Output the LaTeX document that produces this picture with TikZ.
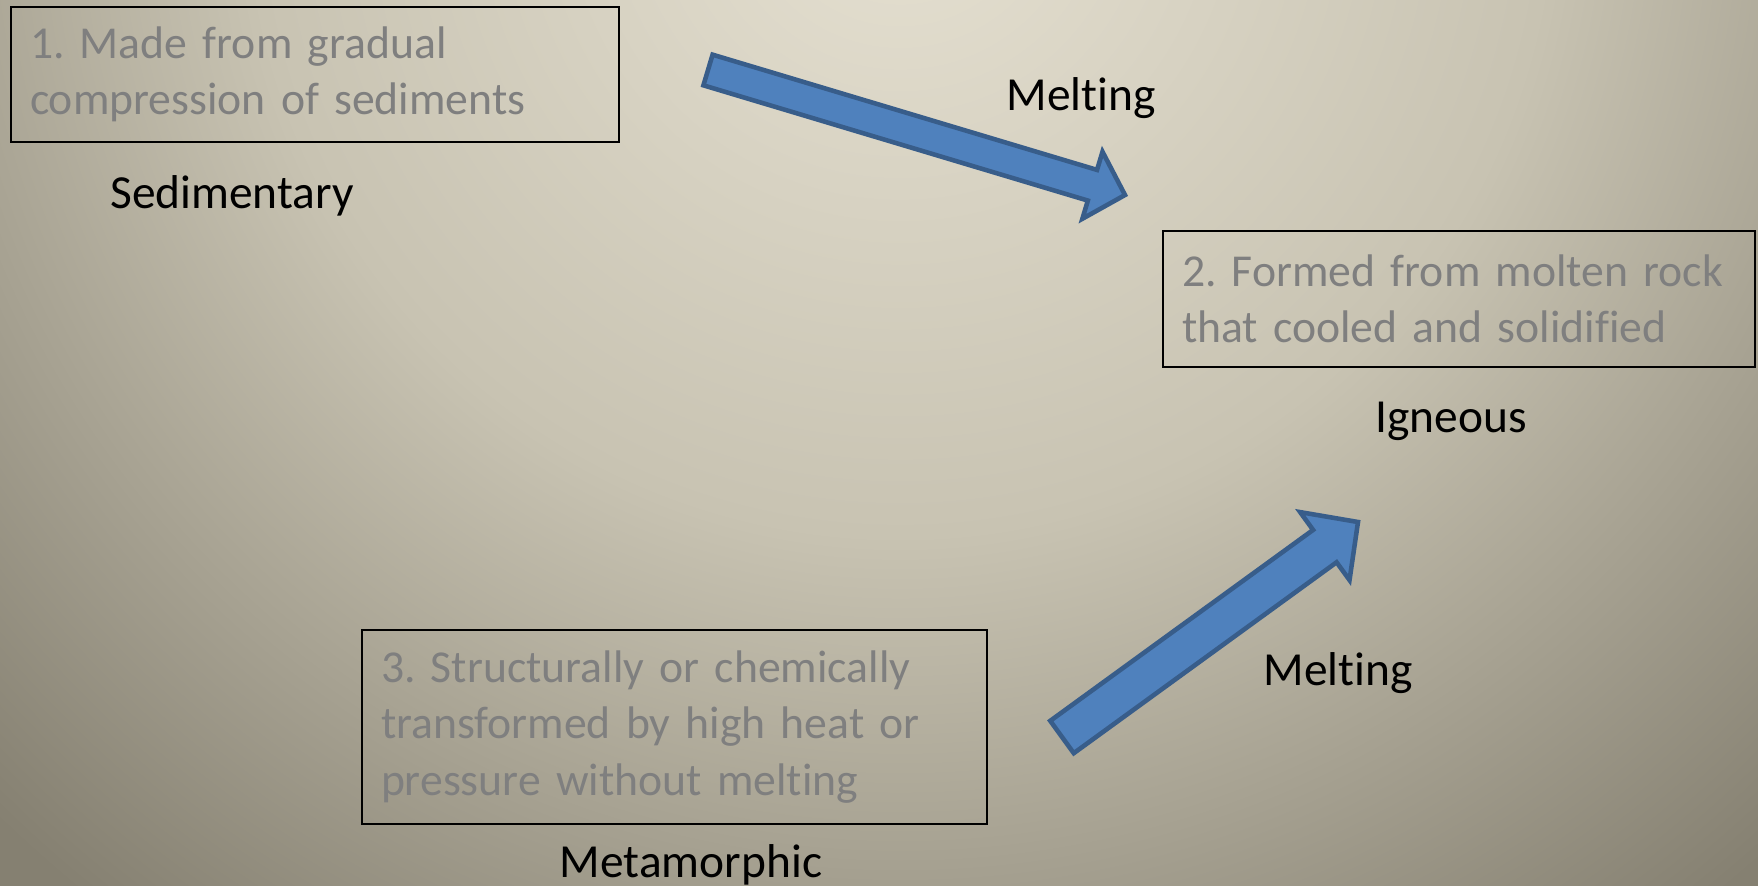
\documentclass[tikz,border=0pt]{standalone}
\usepackage{fontspec}
\setmainfont{Carlito}[Ligatures=NoCommon]
\usepackage{xcolor}
\usepackage{tikz}
\usetikzlibrary{calc}
\usetikzlibrary{positioning}
\usetikzlibrary{backgrounds}
\pgfdeclarelayer{edgelayer}
\pgfdeclarelayer{nodelayer}
\pgfsetlayers{background,edgelayer,nodelayer,main}
\definecolor{bglight}{RGB}{230,225,210}
\definecolor{bgmid}{RGB}{200,195,178}
\definecolor{bgdark}{RGB}{133,128,113}
\definecolor{boxgray}{RGB}{127,127,127}
\definecolor{meltblue}{RGB}{79,129,189}
\definecolor{meltedge}{RGB}{56,93,138}
\pgfdeclareradialshading{slidebg}{\pgfpointorigin}{color(0cm)=(bglight); color(6.5cm)=(bgmid); color(13cm)=(bgdark); color(25cm)=(bgdark)}
\tikzstyle{none}=[inner sep=0mm]
\tikzstyle{rockbox}=[draw=black,line width=0.6pt,text=boxgray,align=left,inner xsep=0.19cm,inner ysep=0mm,font=\fontsize{13pt}{16.1pt}\selectfont]
\tikzstyle{rocklabel}=[none,anchor=base,font=\fontsize{13.5pt}{15.9pt}\selectfont]
\tikzstyle{arrowblock}=[fill=meltblue,draw=meltedge,line width=1.3pt]
% block arrow: tail, tip, half shaft, half head, head length
\newcommand{\meltarrow}[5]{%
	\coordinate (#2-base) at ($(#2)!#5!(#1)$);
	\draw [style=arrowblock] ($(#1)!#3!90:(#2)$) -- ($(#2-base)!#3!90:(#2)$)
		-- ($(#2-base)!#4!90:(#2)$) -- (#2) -- ($(#2-base)!#4!-90:(#2)$)
		-- ($(#2-base)!#3!-90:(#2)$) -- ($(#1)!#3!-90:(#2)$) -- cycle;
}
\frenchspacing

\begin{document}
\begin{tikzpicture}
	\useasboundingbox (0, 0) rectangle (17.58, 8.85);
	\begin{pgfonlayer}{background}
		\begin{scope}
			\clip (0, 0) rectangle (17.58, 8.85);
			\pgftext[at=\pgfpoint{9cm}{10cm}]{\pgfuseshading{slidebg}}
		\end{scope}
	\end{pgfonlayer}
	\begin{pgfonlayer}{nodelayer}
		\node [style=rockbox, text width=5.7cm, minimum height=1.35cm] (sed) at (3.15, 8.105) {1. Made from gradual\\compression of sediments};
		\node [style=rockbox, text width=5.54cm, minimum height=1.36cm] (ign) at (14.59, 5.86) {2. Formed from molten rock\\that cooled and solidified};
		\node [style=rockbox, text width=5.87cm, minimum height=1.94cm] (met) at (6.745, 1.58) {3. Structurally or chemically\\transformed by high heat or\\pressure without melting};
		\node [style=rocklabel] (sedname) at (2.32, 6.765) {Sedimentary};
		\node [style=rocklabel] (ignname) at (14.51, 4.53) {Igneous};
		\node [style=rocklabel] (metname) at (6.91, 0.08) {Metamorphic};
		\node [style=rocklabel] (melt1) at (10.81, 7.75) {Melting};
		\node [style=rocklabel] (melt2) at (13.38, 2.00) {Melting};
	\end{pgfonlayer}
	\begin{pgfonlayer}{edgelayer}
		\coordinate (tail1) at (7.08, 8.15);
		\coordinate (tip1) at (11.25, 6.90);
		\coordinate (tail2) at (10.62, 1.48);
		\coordinate (tip2) at (13.58, 3.63);
		\meltarrow{tail1}{tip1}{0.16cm}{0.35cm}{0.34cm}
		\meltarrow{tail2}{tip2}{0.20cm}{0.42cm}{0.41cm}
	\end{pgfonlayer}
\end{tikzpicture}
\end{document}
